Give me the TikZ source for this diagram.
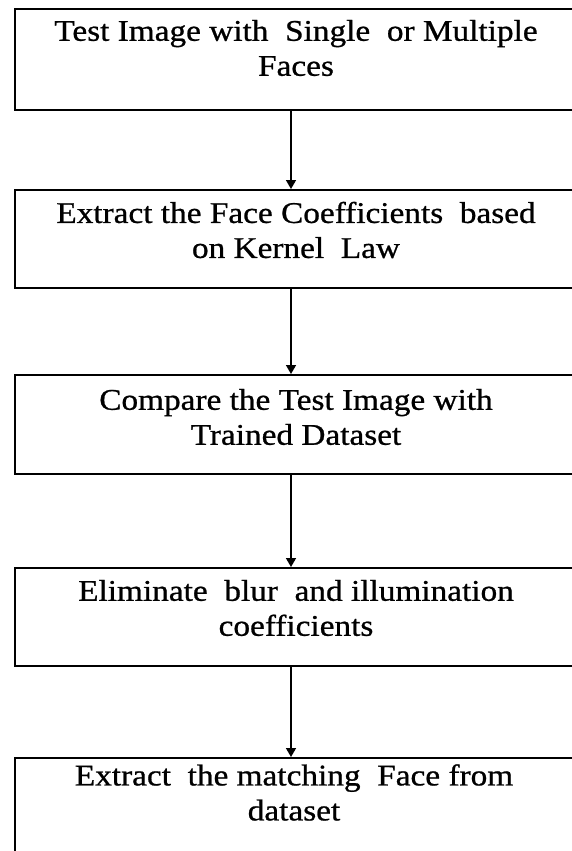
\documentclass[tikz,border=0pt]{standalone}
\usepackage{fontspec}
\setmainfont{Liberation Serif}
\newfontfamily\boxfont[FakeBold=0.8,FakeStretch=1.11]{Liberation Serif}
\usetikzlibrary{arrows.meta}
\begin{document}
\begin{tikzpicture}[x=1pt,y=-1pt,
  stepbox/.style={draw=black, line width=2pt, rectangle, minimum width=560pt, inner sep=0pt, anchor=north west},
  steptext/.style={align=center, font=\boxfont\fontsize{30}{35}\selectfont, inner sep=0pt},
  flow/.style={-{Triangle[width=10pt,length=9pt]}, line width=1.5pt}]
\useasboundingbox (0,0) rectangle (572,851);
\clip (0,0) rectangle (572,851);
\fill[white] (0,0) rectangle (572,851);
\node[stepbox, minimum height=101pt] (b1) at (14,8) {};
\node[stepbox, minimum height=98pt] (b2) at (14,189) {};
\node[stepbox, minimum height=99pt] (b3) at (14,374) {};
\node[stepbox, minimum height=98pt] (b4) at (14,567) {};
\node[stepbox, minimum height=105pt] (b5) at (14,757) {};
\node[steptext] (t1) at (296,48) {Test Image with\ \ Single\ \ or Multiple\\Faces};
\node[steptext] (t2) at (296,230) {Extract the Face Coefficients\ \ based\\on Kernel\ \ Law};
\node[steptext] (t3) at (296,417) {Compare the Test Image with\\Trained Dataset};
\node[steptext] (t4) at (296,608) {Eliminate\ \ blur\ \ and illumination\\coefficients};
\node[steptext] (t5) at (294,792.5) {Extract\ \ the matching\ \ Face from\\dataset};
\draw[flow] ([xshift=-4pt]b1.south) -- ([xshift=-4pt]b2.north);
\draw[flow] ([xshift=-4pt]b2.south) -- ([xshift=-4pt]b3.north);
\draw[flow] ([xshift=-4pt]b3.south) -- ([xshift=-4pt]b4.north);
\draw[flow] ([xshift=-4pt]b4.south) -- ([xshift=-4pt]b5.north);
\end{tikzpicture}
\end{document}
